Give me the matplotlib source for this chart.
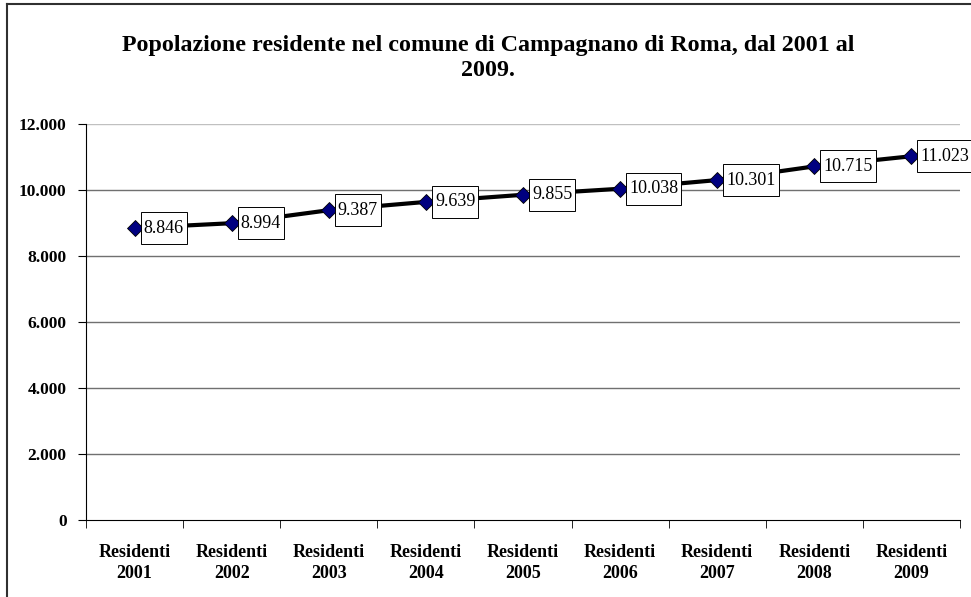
import matplotlib
matplotlib.use('Agg')
import matplotlib.pyplot as plt
from matplotlib.lines import Line2D
from matplotlib.patches import Rectangle
from matplotlib.transforms import IdentityTransform

anni = ['2001', '2002', '2003', '2004', '2005', '2006', '2007', '2008', '2009']
residenti = [8846, 8994, 9387, 9639, 9855, 10038, 10301, 10715, 11023]
etichette = ['Residenti\n' + a for a in anni]
y_ticks = [0, 2000, 4000, 6000, 8000, 10000, 12000]

plt.rcParams['font.family'] = ['Liberation Serif', 'DejaVu Serif']

fig = plt.figure(figsize=(9.71, 5.97), dpi=100)
axis = fig.add_axes([86 / 971, 77 / 597, 874 / 971, 396 / 597])

x = list(range(len(anni)))
axis.plot(x, residenti, color='black', linewidth=3, zorder=3)
axis.plot(x, residenti, linestyle='none', marker='D', markersize=8,
          markerfacecolor='#000080', markeredgecolor='black', markeredgewidth=0.6, zorder=4)

# etichette dei valori, formato italiano
testi = []
for xi, v in zip(x, residenti):
    testo = '{:,}'.format(v).replace(',', '.')
    t = axis.annotate(testo, (xi, v), xytext=(9, 0), textcoords='offset pixels',
                      ha='left', va='center', fontsize=13, zorder=7, annotation_clip=False)
    testi.append(t)

axis.set_xlim(-0.5, len(anni) - 0.5)
axis.set_ylim(0, 12000)
axis.set_yticks(y_ticks)
axis.set_yticklabels(['{:,}'.format(t).replace(',', '.') for t in y_ticks],
                     fontsize=12.5, fontweight='bold')
axis.set_xticks(x)
axis.set_xticklabels(etichette, fontsize=13, fontweight='bold', linespacing=1.35)
axis.tick_params(axis='x', length=0, pad=17)
axis.set_xticks([i - 0.5 for i in range(len(anni) + 1)], minor=True)
axis.tick_params(axis='x', which='minor', length=6, direction='out', color='black')
axis.tick_params(axis='y', length=6, direction='out', pad=8)

# griglia orizzontale
for t in y_ticks[1:]:
    col = '#c0c0c0' if t == 12000 else '#707070'
    axis.axhline(t, color=col, linewidth=1, zorder=1)

for s in ['top', 'right']:
    axis.spines[s].set_visible(False)
axis.spines['left'].set_color('black')
axis.spines['bottom'].set_color('black')

fig.text(0.503, 0.903,
         'Popolazione residente nel comune di Campagnano di Roma, dal 2001 al\n2009.',
         ha='center', va='center', fontsize=17.3, fontweight='bold', linespacing=1.25)

# riquadri delle etichette (alti e stretti come in Excel)
fig.canvas.draw()
for t in testi:
    bb = t.get_window_extent()
    yc = (bb.y0 + bb.y1) / 2
    r = Rectangle((bb.x0 - 3, yc - 16), bb.width + 6, 32, transform=IdentityTransform(),
                  facecolor='white', edgecolor='black', linewidth=0.7, zorder=6, clip_on=False)
    axis.add_artist(r)

# bordo esterno (sinistra e alto)
fig.add_artist(Line2D([7 / 971, 7 / 971], [0, 1 - 4 / 597], color='#303030', linewidth=1.5,
                      transform=fig.transFigure))
fig.add_artist(Line2D([7 / 971, 1], [1 - 4 / 597, 1 - 4 / 597], color='#303030', linewidth=1.5,
                      transform=fig.transFigure))

fig.savefig('out.png', dpi=100)
